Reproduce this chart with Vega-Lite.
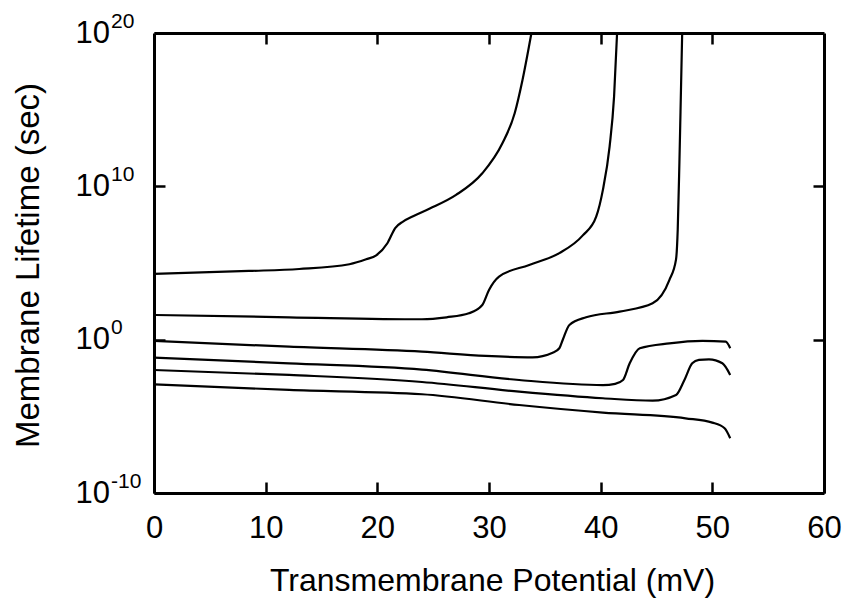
{
  "$schema": "https://vega.github.io/schema/vega-lite/v6.json",
  "width": 670,
  "height": 460,
  "autosize": {"type": "none"},
  "padding": {"left": 154, "top": 33, "right": 21, "bottom": 112},
  "background": "white",
  "config": {
    "view": {"stroke": null},
    "font": "Liberation Sans",
    "axis": {
      "grid": false,
      "domainColor": "black",
      "tickColor": "black",
      "labelColor": "black",
      "titleColor": "black",
      "domainWidth": 3,
      "tickWidth": 2.5,
      "labelFont": "Liberation Sans",
      "titleFont": "Liberation Sans",
      "titleFontWeight": "normal",
      "labelFontWeight": "normal",
      "labelFlush": false,
      "labelOverlap": false
    }
  },
  "data": {
    "values": [
      {"c": "A", "x": 0, "y": 1.95e4},
      {"c": "A", "x": 8.5, "y": 3.02e4},
      {"c": "A", "x": 13, "y": 4.07e4},
      {"c": "A", "x": 17.5, "y": 8.32e4},
      {"c": "A", "x": 19.0, "y": 1.74e5},
      {"c": "A", "x": 19.9, "y": 3.16e5},
      {"c": "A", "x": 20.9, "y": 1.95e6},
      {"c": "A", "x": 21.6, "y": 1.9e7},
      {"c": "A", "x": 22.3, "y": 5.01e7},
      {"c": "A", "x": 23.2, "y": 1.12e8},
      {"c": "A", "x": 24.7, "y": 3.55e8},
      {"c": "A", "x": 27.05, "y": 2.75e9},
      {"c": "A", "x": 29.4, "y": 7.08e10},
      {"c": "A", "x": 31.2, "y": 6.46e12},
      {"c": "A", "x": 32.3, "y": 5.89e14},
      {"c": "A", "x": 33.0, "y": 8.71e16},
      {"c": "A", "x": 33.8, "y": 1e20},

      {"c": "B", "x": 0, "y": 40.7},
      {"c": "B", "x": 12.1, "y": 28.8},
      {"c": "B", "x": 24.0, "y": 21.4},
      {"c": "B", "x": 26.2, "y": 28.8},
      {"c": "B", "x": 28.2, "y": 52.5},
      {"c": "B", "x": 29.4, "y": 182},
      {"c": "B", "x": 30.0, "y": 1.74e3},
      {"c": "B", "x": 30.9, "y": 1.29e4},
      {"c": "B", "x": 33.6, "y": 7.41e4},
      {"c": "B", "x": 36.3, "y": 4.37e5},
      {"c": "B", "x": 38.4, "y": 6.31e6},
      {"c": "B", "x": 39.6, "y": 1.05e8},
      {"c": "B", "x": 40.2, "y": 5.89e9},
      {"c": "B", "x": 40.8, "y": 3.89e12},
      {"c": "B", "x": 41.2, "y": 7.08e15},
      {"c": "B", "x": 41.47, "y": 1e20},

      {"c": "C", "x": 0, "y": 0.832},
      {"c": "C", "x": 12.1, "y": 0.347},
      {"c": "C", "x": 24.0, "y": 0.166},
      {"c": "C", "x": 29.7, "y": 0.0871},
      {"c": "C", "x": 33.9, "y": 0.0708},
      {"c": "C", "x": 35.7, "y": 0.141},
      {"c": "C", "x": 36.3, "y": 0.275},
      {"c": "C", "x": 36.6, "y": 0.955},
      {"c": "C", "x": 37.2, "y": 9.12},
      {"c": "C", "x": 38.7, "y": 28.8},
      {"c": "C", "x": 41.7, "y": 67.6},
      {"c": "C", "x": 44.65, "y": 234},
      {"c": "C", "x": 46.15, "y": 7.76e3},
      {"c": "C", "x": 46.75, "y": 1.74e5},
      {"c": "C", "x": 46.9, "y": 1.45e7},
      {"c": "C", "x": 47.05, "y": 3.16e11},
      {"c": "C", "x": 47.15, "y": 7.08e14},
      {"c": "C", "x": 47.3, "y": 1e20},

      {"c": "D", "x": 0, "y": 0.0676},
      {"c": "D", "x": 12.1, "y": 0.0288},
      {"c": "D", "x": 24.0, "y": 0.0112},
      {"c": "D", "x": 32.7, "y": 2.34e-3},
      {"c": "D", "x": 40.2, "y": 1.10e-3},
      {"c": "D", "x": 41.3, "y": 1.32e-3},
      {"c": "D", "x": 42.0, "y": 2.34e-3},
      {"c": "D", "x": 42.6, "y": 0.0288},
      {"c": "D", "x": 43.5, "y": 0.275},
      {"c": "D", "x": 46.15, "y": 0.575},
      {"c": "D", "x": 49.1, "y": 0.832},
      {"c": "D", "x": 51.2, "y": 0.741},
      {"c": "D", "x": 51.6, "y": 0.275},

      {"c": "E", "x": 0, "y": 0.0105},
      {"c": "E", "x": 12.1, "y": 5.01e-3},
      {"c": "E", "x": 24.0, "y": 1.74e-3},
      {"c": "E", "x": 32.7, "y": 4.07e-4},
      {"c": "E", "x": 40.2, "y": 1.51e-4},
      {"c": "E", "x": 44.65, "y": 1.05e-4},
      {"c": "E", "x": 46.75, "y": 2.45e-4},
      {"c": "E", "x": 47.5, "y": 2.34e-3},
      {"c": "E", "x": 48.2, "y": 0.0288},
      {"c": "E", "x": 48.8, "y": 0.0479},
      {"c": "E", "x": 49.7, "y": 0.0525},
      {"c": "E", "x": 50.9, "y": 0.0288},
      {"c": "E", "x": 51.6, "y": 5.01e-3},

      {"c": "F", "x": 0, "y": 1.23e-3},
      {"c": "F", "x": 12.1, "y": 5.25e-4},
      {"c": "F", "x": 24.0, "y": 2.75e-4},
      {"c": "F", "x": 32.7, "y": 5.50e-5},
      {"c": "F", "x": 40.2, "y": 1.74e-5},
      {"c": "F", "x": 47.6, "y": 7.41e-6},
      {"c": "F", "x": 50.0, "y": 3.89e-6},
      {"c": "F", "x": 51.1, "y": 1.66e-6},
      {"c": "F", "x": 51.6, "y": 3.72e-7}
    ]
  },
  "layer": [
    {
      "mark": {"type": "line", "interpolate": "monotone", "strokeWidth": 2.2, "color": "black", "clip": true},
      "encoding": {
        "x": {
          "field": "x", "type": "quantitative",
          "scale": {"domain": [0, 60], "nice": false, "zero": false},
          "axis": {
            "orient": "bottom", "values": [0, 10, 20, 30, 40, 50, 60],
            "tickSize": -11, "labelFontSize": 31, "labelPadding": 55, "labelBaseline": "alphabetic",
            "title": "Transmembrane Potential (mV)", "titleFontSize": 32,
            "titleBaseline": "alphabetic", "titleX": 338, "titleY": 97, "titleAnchor": "middle", "titleAlign": "center"
          }
        },
        "y": {
          "field": "y", "type": "quantitative",
          "scale": {"type": "log", "domain": [1e-10, 1e20], "nice": false},
          "axis": {
            "orient": "left", "values": [1e-10, 1, 1e10, 1e20],
            "tickSize": -11, "labelExpr": "'10'", "labelFontSize": 31, "labelBaseline": "middle",
            "labelAlign": "right", "labelPadding": 55.5,
            "title": "Membrane Lifetime (sec)", "titleFontSize": 33, "titleAngle": -90,
            "titleBaseline": "alphabetic", "titleAlign": "center", "titleX": -116, "titleY": 232
          }
        },
        "detail": {"field": "c", "type": "nominal"}
      }
    },
    {
      "mark": {"type": "line", "opacity": 0},
      "encoding": {
        "x": {
          "field": "x", "type": "quantitative",
          "scale": {"domain": [0, 60], "nice": false, "zero": false},
          "axis": {"orient": "top", "values": [10, 20, 30, 40, 50], "tickSize": -11, "labels": false, "title": null}
        },
        "y": {
          "field": "y", "type": "quantitative",
          "scale": {"type": "log", "domain": [1e-10, 1e20], "nice": false},
          "axis": {
            "orient": "left", "values": [1e-10, 1, 1e10, 1e20],
            "ticks": false, "domain": false, "title": null,
            "labelExpr": "datum.value > 1e15 ? '20' : datum.value > 1e5 ? '10' : datum.value > 0.1 ? '\u2007\u20070' : '-10'",
            "labelFontSize": 21, "labelAlign": "left", "labelBaseline": "middle",
            "labelPadding": 43.5, "labelOffset": -12
          }
        },
        "detail": {"field": "c", "type": "nominal"}
      }
    },
    {
      "mark": {"type": "line", "opacity": 0},
      "encoding": {
        "x": {
          "field": "x", "type": "quantitative",
          "scale": {"domain": [0, 60], "nice": false, "zero": false},
          "axis": null
        },
        "y": {
          "field": "y", "type": "quantitative",
          "scale": {"type": "log", "domain": [1e-10, 1e20], "nice": false},
          "axis": {"orient": "right", "values": [1, 1e10], "tickSize": -11, "labels": false, "title": null}
        },
        "detail": {"field": "c", "type": "nominal"}
      }
    }
  ],
  "resolve": {"axis": {"x": "independent", "y": "independent"}}
}
